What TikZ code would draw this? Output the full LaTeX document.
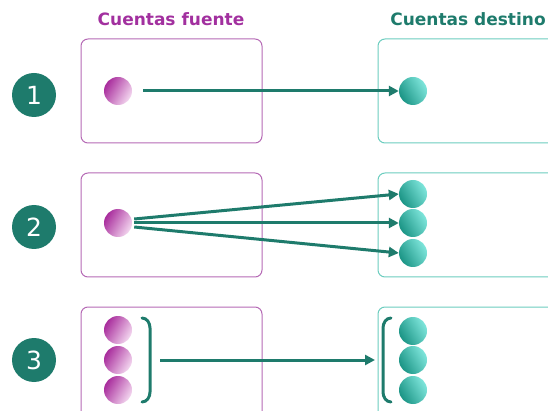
\documentclass[tikz,border=0pt]{standalone}
\usepackage{fontspec}
\setmainfont{DejaVu Sans}
\usetikzlibrary{arrows.meta}
\definecolor{tealdark}{HTML}{1E7B6C}
\definecolor{purptxt}{HTML}{A2309F}
\definecolor{purpline}{HTML}{B56AB5}
\definecolor{tealline}{HTML}{6CCDBF}
\definecolor{purpdark}{HTML}{A82C9C}
\definecolor{purplight}{HTML}{F4D8F0}
\definecolor{tealball}{HTML}{1FAE9C}
\definecolor{teallight}{HTML}{7FE6DC}
\tikzset{
  numcirc/.style={circle,fill=tealdark,minimum size=44pt,inner sep=0pt,text=white,font=\fontsize{25}{25}\selectfont},
  srcbox/.style={draw=purpline,line width=1pt,rounded corners=7pt},
  dstbox/.style={draw=tealline,line width=1pt,rounded corners=7pt},
  pball/.style={circle,minimum size=28pt,inner sep=0pt,shading=axis,left color=purpdark,right color=purplight,shading angle=60},
  tball/.style={circle,minimum size=28pt,inner sep=0pt,shading=axis,left color=tealball!85!black,right color=teallight,shading angle=120},
  conn/.style={draw=tealdark,line width=3pt,-{Triangle[length=10pt,width=10pt]}},
  brack/.style={draw=tealdark,line width=3pt,line cap=round},
  title/.style={font=\bfseries\fontsize{17}{17}\selectfont}
}
\begin{document}
\begin{tikzpicture}[x=1pt,y=-1pt]
\useasboundingbox (0,0) rectangle (548,411);
\node[title,text=purptxt] (tf) at (171,19) {Cuentas fuente};
\node[title,text=tealdark] (td) at (468,19) {Cuentas destino};
% boxes
\draw[srcbox] (81,39) rectangle (262,143);
\draw[dstbox] (378,39) rectangle (565,143);
\draw[srcbox] (81,173) rectangle (262,277);
\draw[dstbox] (378,173) rectangle (565,277);
\draw[srcbox] (81,307) rectangle (262,425);
\draw[dstbox] (378,307) rectangle (565,425);
% numbers
\node[numcirc] (n1) at (34,95) {1};
\node[numcirc] (n2) at (34,227) {2};
\node[numcirc] (n3) at (34,360) {3};
% row 1
\node[pball] (p1) at (118,91) {};
\node[tball] (t1) at (413,91) {};
\coordinate (a1s) at (143,91);
\draw[conn] (a1s) -- (t1.west);
% row 2
\node[pball] (p2) at (118,223) {};
\node[tball] (t2a) at (413,194) {};
\node[tball] (t2b) at (413,223) {};
\node[tball] (t2c) at (413,253) {};
\draw[conn] ([shift={(2,-4)}]p2.east) -- (t2a.west);
\draw[conn] ([shift={(2,0)}]p2.east) -- (t2b.west);
\draw[conn] ([shift={(2,4)}]p2.east) -- (t2c.west);
% row 3
\node[pball] (p3a) at (118,330) {};
\node[pball] (p3b) at (118,360) {};
\node[pball] (p3c) at (118,390) {};
\node[tball] (t3a) at (413,331) {};
\node[tball] (t3b) at (413,360) {};
\node[tball] (t3c) at (413,390) {};
\coordinate (bl1) at (142,318);
\coordinate (bl2) at (142,402);
\coordinate (br1) at (391,318);
\coordinate (br2) at (391,402);
\draw[brack] (bl1) to[out=0,in=90] (150,328) -- (150,392) to[out=-90,in=0] (bl2);
\draw[brack] (br1) to[out=180,in=90] (383,328) -- (383,392) to[out=-90,in=180] (br2);
\coordinate (a3s) at (160,360);
\coordinate (a3e) at (375,360);
\draw[conn] (a3s) -- (a3e);
\end{tikzpicture}
\end{document}
